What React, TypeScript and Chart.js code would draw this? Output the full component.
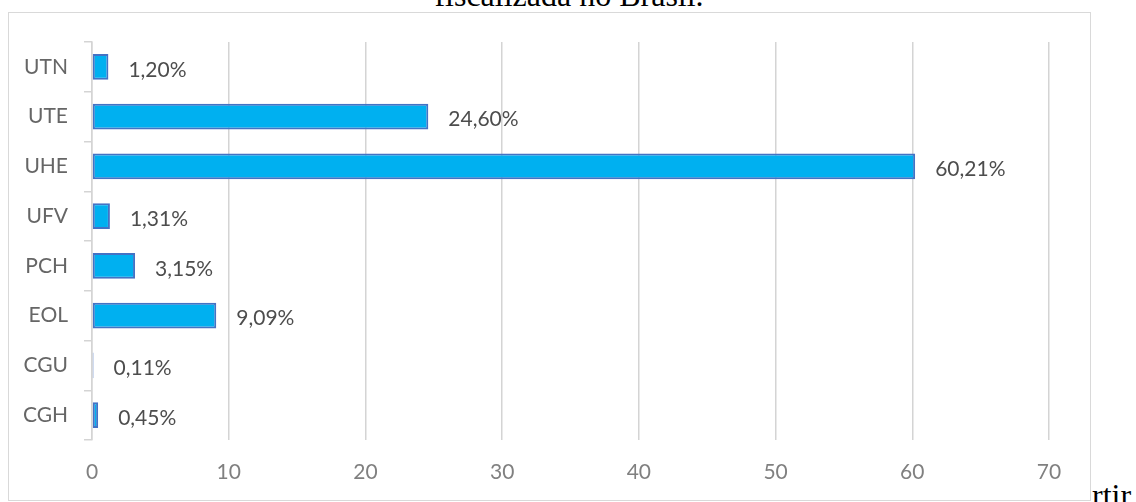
import React, { useEffect, useRef } from "react";
import { Chart, registerables } from "chart.js";

Chart.register(...registerables);

const categories = ["UTN", "UTE", "UHE", "UFV", "PCH", "EOL", "CGU", "CGH"];
const shares = [1.2, 24.6, 60.21, 1.31, 3.15, 9.09, 0.11, 0.45];
const xTickValues = [0, 10, 20, 30, 40, 50, 60, 70];
const captionAbove = "fiscalizada no Brasil.";
const captionBelow = "rtir";

const fmt = (v: number) => v.toFixed(2).replace(".", ",") + "%";

const valueLabels = {
  id: "valueLabels",
  afterDatasetsDraw(chart: any) {
    const meta = chart.getDatasetMeta(0);
    const ctx = chart.ctx;
    ctx.save();
    ctx.font = "21px Lato";
    ctx.fillStyle = "#4D4D4D";
    ctx.textAlign = "left";
    ctx.textBaseline = "middle";
    meta.data.forEach((el: any, i: number) => {
      ctx.fillText(fmt(shares[i]), el.x + 20, el.y + 3);
    });
    ctx.restore();
  },
};

export default function App() {
  const ref = useRef<HTMLCanvasElement | null>(null);
  useEffect(() => {
    if (!ref.current) return;
    const chart = new Chart(ref.current, {
      type: "bar",
      data: {
        labels: categories,
        datasets: [
          {
            data: shares,
            backgroundColor: "#00B0F0",
            borderColor: "#4472C4",
            borderWidth: 2,
            borderSkipped: false,
            categoryPercentage: 1,
            barPercentage: 0.52,
          },
        ],
      },
      options: {
        indexAxis: "y",
        animation: false,
        responsive: false,
        maintainAspectRatio: false,
        layout: { padding: { top: 29, right: 41, bottom: 0, left: 0 } },
        plugins: {
          legend: { display: false },
          tooltip: { enabled: false },
          title: { display: false },
        },
        scales: {
          x: {
            min: xTickValues[0],
            max: xTickValues[xTickValues.length - 1],
            afterBuildTicks: (s: any) => {
              s.ticks = xTickValues.map((v) => ({ value: v }));
            },
            afterFit: (s: any) => {
              s.height = 60;
            },
            grid: { color: "#D4D4D4", lineWidth: 1.5, drawTicks: false },
            border: { display: false },
            ticks: {
              color: "#808080",
              font: { family: "Lato", size: 21 },
              padding: 20,
            },
          },
          y: {
            afterFit: (s: any) => {
              s.width = 83;
            },
            grid: {
              color: "#D4D4D4",
              lineWidth: 1.5,
              drawOnChartArea: false,
              drawTicks: true,
              tickLength: 8,
              offset: true,
            },
            border: { display: true, color: "#D4D4D4", width: 1.5 },
            ticks: {
              color: "#666666",
              font: { family: "Lato", size: 21 },
              padding: 16,
            },
          },
        },
      },
      plugins: [valueLabels],
    });
    return () => chart.destroy();
  }, []);

  return (
    <div style={{ position: "fixed", left: 0, top: 0, width: 1136, height: 502, overflow: "hidden", background: "#fff" }}>
      <div
        style={{
          position: "absolute",
          left: 0,
          width: 1136,
          top: -21,
          textAlign: "center",
          fontFamily: "'Liberation Serif', 'Times New Roman', serif",
          fontSize: 32,
          lineHeight: "32px",
          color: "#000",
          whiteSpace: "nowrap",
        }}
      >
        <span style={{ position: "relative", left: 1 }}>{captionAbove}</span>
      </div>
      <div
        style={{
          position: "absolute",
          left: 8,
          top: 12,
          width: 1083,
          height: 489,
          boxSizing: "border-box",
          border: "1px solid #D9D9D9",
        }}
      >
        <canvas ref={ref} width={1081} height={487} style={{ display: "block", width: 1081, height: 487 }} />
      </div>
      <div
        style={{
          position: "absolute",
          left: 1092,
          top: 479,
          fontFamily: "'Liberation Serif', 'Times New Roman', serif",
          fontSize: 32,
          lineHeight: "32px",
          color: "#000",
          whiteSpace: "nowrap",
        }}
      >
        {captionBelow}
      </div>
    </div>
  );
}
